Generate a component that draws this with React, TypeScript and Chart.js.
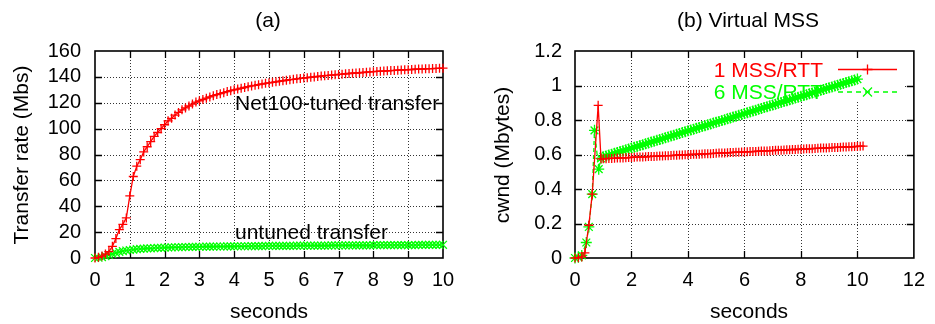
import React, { useEffect, useRef } from "react";
import { Chart, registerables } from "chart.js";

Chart.register(...registerables);

const FONT = "'Liberation Sans', Arial, Helvetica, sans-serif";
const RED = "#ff0000";
const GREEN = "#00ff00";

// ---------- Panel (a): Transfer rate ----------
const SECONDS_A = [
  0, 0.1, 0.2, 0.3, 0.4, 0.5, 0.6, 0.7, 0.8, 0.9,
  1, 1.1, 1.2, 1.3, 1.4, 1.5, 1.6, 1.7, 1.8, 1.9,
  2, 2.1, 2.2, 2.3, 2.4, 2.5, 2.6, 2.7, 2.8, 2.9,
  3, 3.1, 3.2, 3.3, 3.4, 3.5, 3.6, 3.7, 3.8, 3.9,
  4, 4.1, 4.2, 4.3, 4.4, 4.5, 4.6, 4.7, 4.8, 4.9,
  5, 5.1, 5.2, 5.3, 5.4, 5.5, 5.6, 5.7, 5.8, 5.9,
  6, 6.1, 6.2, 6.3, 6.4, 6.5, 6.6, 6.7, 6.8, 6.9,
  7, 7.1, 7.2, 7.3, 7.4, 7.5, 7.6, 7.7, 7.8, 7.9,
  8, 8.1, 8.2, 8.3, 8.4, 8.5, 8.6, 8.7, 8.8, 8.9,
  9, 9.1, 9.2, 9.3, 9.4, 9.5, 9.6, 9.7, 9.8, 9.9,
  10,
];

const RATE_TUNED = [
  0, 0.5, 1.5, 3, 5, 9, 15, 22, 26, 31,
  48, 63, 71, 76, 82, 86, 90, 94, 97, 100,
  103, 106, 108, 110.5, 112.5, 114.5, 116, 117.5, 119, 120.5,
  121.5, 122.5, 123.5, 124.5, 125.5, 126.3, 127, 127.8, 128.6, 129.3,
  130, 130.6, 131.2, 131.8, 132.4, 133, 133.5, 134, 134.5, 135,
  135.4, 135.8, 136.2, 136.6, 137, 137.4, 137.8, 138.1, 138.5, 138.8,
  139.1, 139.4, 139.7, 140, 140.3, 140.6, 140.9, 141.1, 141.4, 141.6,
  141.9, 142.1, 142.4, 142.6, 142.8, 143, 143.2, 143.4, 143.6, 143.8,
  144, 144.2, 144.4, 144.5, 144.7, 144.9, 145, 145.2, 145.3, 145.5,
  145.6, 145.7, 145.9, 146, 146.1, 146.2, 146.3, 146.4, 146.5, 146.6,
  146.7,
];

const RATE_UNTUNED = [
  0, 0.2, 0.7, 1.4, 2.3, 3.2, 4, 4.7, 5.3, 5.8,
  6.2, 6.5, 6.8, 7, 7.2, 7.4, 7.5, 7.7, 7.8, 7.9,
  8, 8.1, 8.2, 8.3, 8.3, 8.4, 8.5, 8.5, 8.6, 8.6,
  8.7, 8.7, 8.8, 8.8, 8.8, 8.9, 8.9, 8.9, 9, 9,
  9, 9.1, 9.1, 9.1, 9.1, 9.2, 9.2, 9.2, 9.2, 9.3,
  9.3, 9.3, 9.3, 9.4, 9.4, 9.4, 9.4, 9.4, 9.5, 9.5,
  9.5, 9.5, 9.5, 9.6, 9.6, 9.6, 9.6, 9.6, 9.7, 9.7,
  9.7, 9.7, 9.7, 9.7, 9.8, 9.8, 9.8, 9.8, 9.8, 9.8,
  9.9, 9.9, 9.9, 9.9, 9.9, 9.9, 10, 10, 10, 10,
  10, 10, 10, 10.1, 10.1, 10.1, 10.1, 10.1, 10.1, 10.2,
  10.2,
];

// ---------- Panel (b): Virtual MSS ----------
const SECONDS_1MSS = [
  0, 0.12, 0.24, 0.35, 0.49, 0.61, 0.82, 0.92,
  1, 1.1, 1.2, 1.3, 1.4, 1.5, 1.6, 1.7, 1.8, 1.9,
  2, 2.1, 2.2, 2.3, 2.4, 2.5, 2.6, 2.7, 2.8, 2.9,
  3, 3.1, 3.2, 3.3, 3.4, 3.5, 3.6, 3.7, 3.8, 3.9,
  4, 4.1, 4.2, 4.3, 4.4, 4.5, 4.6, 4.7, 4.8, 4.9,
  5, 5.1, 5.2, 5.3, 5.4, 5.5, 5.6, 5.7, 5.8, 5.9,
  6, 6.1, 6.2, 6.3, 6.4, 6.5, 6.6, 6.7, 6.8, 6.9,
  7, 7.1, 7.2, 7.3, 7.4, 7.5, 7.6, 7.7, 7.8, 7.9,
  8, 8.1, 8.2, 8.3, 8.4, 8.5, 8.6, 8.7, 8.8, 8.9,
  9, 9.1, 9.2, 9.3, 9.4, 9.5, 9.6, 9.7, 9.8, 9.9,
  10, 10.1, 10.2,
];

const CWND_1MSS = [
  0, 0.002, 0.006, 0.03, 0.19, 0.37, 0.885, 0.575,
  0.575, 0.576, 0.577, 0.577, 0.578, 0.579, 0.58, 0.58, 0.581, 0.582,
  0.583, 0.584, 0.585, 0.585, 0.586, 0.587, 0.588, 0.589, 0.589, 0.59,
  0.591, 0.592, 0.593, 0.593, 0.594, 0.595, 0.596, 0.597, 0.597, 0.598,
  0.599, 0.6, 0.601, 0.601, 0.602, 0.603, 0.604, 0.605, 0.605, 0.606,
  0.607, 0.608, 0.609, 0.609, 0.61, 0.611, 0.612, 0.613, 0.613, 0.614,
  0.615, 0.616, 0.617, 0.617, 0.618, 0.619, 0.62, 0.621, 0.621, 0.622,
  0.623, 0.624, 0.625, 0.625, 0.626, 0.627, 0.628, 0.629, 0.629, 0.63,
  0.631, 0.632, 0.633, 0.633, 0.634, 0.635, 0.636, 0.637, 0.637, 0.638,
  0.639, 0.64, 0.641, 0.641, 0.642, 0.643, 0.644, 0.645, 0.645, 0.646,
  0.647, 0.648, 0.649,
];

const SECONDS_6MSS = [
  0, 0.12, 0.24, 0.4, 0.49, 0.61, 0.69, 0.84, 0.92,
  1, 1.1, 1.2, 1.3, 1.4, 1.5, 1.6, 1.7, 1.8, 1.9,
  2, 2.1, 2.2, 2.3, 2.4, 2.5, 2.6, 2.7, 2.8, 2.9,
  3, 3.1, 3.2, 3.3, 3.4, 3.5, 3.6, 3.7, 3.8, 3.9,
  4, 4.1, 4.2, 4.3, 4.4, 4.5, 4.6, 4.7, 4.8, 4.9,
  5, 5.1, 5.2, 5.3, 5.4, 5.5, 5.6, 5.7, 5.8, 5.9,
  6, 6.1, 6.2, 6.3, 6.4, 6.5, 6.6, 6.7, 6.8, 6.9,
  7, 7.1, 7.2, 7.3, 7.4, 7.5, 7.6, 7.7, 7.8, 7.9,
  8, 8.1, 8.2, 8.3, 8.4, 8.5, 8.6, 8.7, 8.8, 8.9,
  9, 9.1, 9.2, 9.3, 9.4, 9.5, 9.6, 9.7, 9.8, 9.9,
  10,
];

const CWND_6MSS = [
  0, 0.004, 0.015, 0.09, 0.18, 0.37, 0.74, 0.515, 0.578,
  0.587, 0.592, 0.597, 0.602, 0.607, 0.612, 0.617, 0.622, 0.627, 0.632,
  0.637, 0.642, 0.647, 0.652, 0.657, 0.662, 0.667, 0.672, 0.677, 0.682,
  0.687, 0.692, 0.697, 0.702, 0.707, 0.712, 0.717, 0.722, 0.727, 0.732,
  0.737, 0.742, 0.747, 0.752, 0.757, 0.762, 0.767, 0.772, 0.777, 0.782,
  0.787, 0.792, 0.797, 0.802, 0.807, 0.812, 0.817, 0.822, 0.827, 0.832,
  0.837, 0.842, 0.847, 0.852, 0.857, 0.862, 0.867, 0.872, 0.877, 0.882,
  0.887, 0.892, 0.897, 0.902, 0.907, 0.912, 0.917, 0.922, 0.927, 0.932,
  0.937, 0.942, 0.947, 0.952, 0.957, 0.962, 0.967, 0.972, 0.977, 0.982,
  0.987, 0.992, 0.997, 1.002, 1.007, 1.012, 1.017, 1.022, 1.027, 1.032,
  1.037,
];

function pts(xs: number[], ys: number[]) {
  return xs.map((x, i) => ({ x, y: ys[i] }));
}

function ds(label: string, data: any[], color: string, style: string, radius: number, dash: number[] = []) {
  return {
    label,
    data,
    borderColor: color,
    backgroundColor: color,
    borderWidth: 1.3,
    borderDash: dash,
    pointStyle: style,
    pointRadius: radius,
    pointHoverRadius: radius,
    pointBorderWidth: 1.3,
    pointBorderColor: color,
    pointBackgroundColor: "transparent",
    tension: 0,
    clip: false as any,
    fill: false,
  };
}

function drawMarker(ctx: CanvasRenderingContext2D, kind: string, x: number, y: number, r: number) {
  ctx.beginPath();
  if (kind === "cross" || kind === "star") {
    ctx.moveTo(x - r, y); ctx.lineTo(x + r, y);
    ctx.moveTo(x, y - r); ctx.lineTo(x, y + r);
  }
  if (kind === "crossRot" || kind === "star") {
    const d = r * 0.75;
    ctx.moveTo(x - d, y - d); ctx.lineTo(x + d, y + d);
    ctx.moveTo(x - d, y + d); ctx.lineTo(x + d, y - d);
  }
  ctx.stroke();
}

type TextItem = { text: string; x: number; y: number; align?: CanvasTextAlign; color?: string; rotate?: boolean; baseline?: CanvasTextBaseline };

function framePlugin(texts: TextItem[], before?: (ctx: CanvasRenderingContext2D, chart: any) => void) {
  return {
    id: "frame",
    beforeDatasetsDraw(chart: any) {
      const ctx = chart.ctx as CanvasRenderingContext2D;
      const { left, right, top, bottom } = chart.chartArea;
      const xs = chart.scales.x;
      const ys = chart.scales.y;
      ctx.save();
      // dotted grid
      ctx.strokeStyle = "#333";
      ctx.lineWidth = 1;
      ctx.setLineDash([1, 2]);
      ctx.beginPath();
      xs.ticks.forEach((t: any) => {
        const px = Math.round(xs.getPixelForValue(t.value)) + 0.5;
        if (px <= left + 2 || px >= right - 2) return;
        ctx.moveTo(px, top); ctx.lineTo(px, bottom);
      });
      ys.ticks.forEach((t: any) => {
        const py = Math.round(ys.getPixelForValue(t.value)) + 0.5;
        if (py <= top + 2 || py >= bottom - 2) return;
        ctx.moveTo(left, py); ctx.lineTo(right, py);
      });
      ctx.stroke();
      ctx.setLineDash([]);
      if (before) before(ctx, chart);
      // border
      ctx.strokeStyle = "#000";
      ctx.lineWidth = 1.6;
      ctx.setLineDash([]);
      ctx.strokeRect(left, top, right - left, bottom - top);
      // inward ticks on all four sides
      ctx.lineWidth = 1.3;
      const L = 7;
      ctx.beginPath();
      xs.ticks.forEach((t: any) => {
        const px = Math.round(xs.getPixelForValue(t.value)) + 0.5;
        if (px <= left + 2 || px >= right - 2) return;
        ctx.moveTo(px, bottom); ctx.lineTo(px, bottom - L);
        ctx.moveTo(px, top); ctx.lineTo(px, top + L);
      });
      ys.ticks.forEach((t: any) => {
        const py = Math.round(ys.getPixelForValue(t.value)) + 0.5;
        if (py <= top + 2 || py >= bottom - 2) return;
        ctx.moveTo(left, py); ctx.lineTo(left + L, py);
        ctx.moveTo(right, py); ctx.lineTo(right - L, py);
      });
      ctx.stroke();
      ctx.restore();
    },
    afterDraw(chart: any) {
      const ctx = chart.ctx as CanvasRenderingContext2D;
      ctx.save();
      ctx.font = `21px ${FONT}`;
      texts.forEach((t) => {
        ctx.fillStyle = t.color || "#000";
        ctx.textAlign = t.align || "center";
        ctx.textBaseline = t.baseline || "alphabetic";
        if (t.rotate) {
          ctx.save();
          ctx.translate(t.x, t.y);
          ctx.rotate(-Math.PI / 2);
          ctx.fillText(t.text, 0, 0);
          ctx.restore();
        } else {
          ctx.fillText(t.text, t.x, t.y);
        }
      });
      ctx.restore();
    },
  };
}

function makeConfig(opts: {
  datasets: any[];
  xMax: number; xStep: number; yMax: number; yStep: number;
  yWidth: number; padRight: number; yPad: number;
  fmt: (v: number) => string;
  plugin: any;
}) {
  const tickFont = { family: FONT, size: 20 };
  return {
    type: "line",
    data: { datasets: opts.datasets },
    options: {
      animation: false,
      responsive: false,
      devicePixelRatio: 1,
      events: [],
      layout: { padding: { top: 51, right: opts.padRight, left: 0, bottom: 0 } },
      plugins: { legend: { display: false }, tooltip: { enabled: false }, title: { display: false } },
      scales: {
        x: {
          type: "linear",
          min: 0,
          max: opts.xMax,
          afterFit: (s: any) => { s.height = 66; },
          ticks: { stepSize: opts.xStep, font: tickFont, color: "#000", padding: 10, maxRotation: 0, autoSkip: false },
          grid: { display: false, drawTicks: false },
          border: { display: false },
        },
        y: {
          type: "linear",
          min: 0,
          max: opts.yMax,
          afterFit: (s: any) => { s.width = opts.yWidth; },
          ticks: { stepSize: opts.yStep, font: tickFont, color: "#000", padding: opts.yPad, autoSkip: false, callback: (v: any) => opts.fmt(Number(v)) },
          grid: { display: false, drawTicks: false },
          border: { display: false },
        },
      },
    },
    plugins: [opts.plugin],
  } as any;
}

export default function App() {
  const refA = useRef<HTMLCanvasElement>(null);
  const refB = useRef<HTMLCanvasElement>(null);

  useEffect(() => {
    const textsA: TextItem[] = [
      { text: "(a)", x: 268, y: 27 },
      { text: "seconds", x: 269, y: 318 },
      { text: "Transfer rate (Mbs)", x: 22, y: 155, rotate: true, baseline: "middle" },
      { text: "Net100-tuned transfer", x: 235, y: 110, align: "left" },
      { text: "untuned transfer", x: 235, y: 239, align: "left" },
    ];
    const cfgA = makeConfig({
      datasets: [
        ds("Net100-tuned transfer", pts(SECONDS_A, RATE_TUNED), RED, "cross", 4.5),
        ds("untuned transfer", pts(SECONDS_A, RATE_UNTUNED), GREEN, "crossRot", 5.5),
      ],
      xMax: 10, xStep: 1, yMax: 160, yStep: 20,
      yWidth: 95, padRight: 27, yPad: 14,
      fmt: (v) => String(Math.round(v)),
      plugin: framePlugin(textsA),
    });

    const textsB: TextItem[] = [
      { text: "(b) Virtual MSS", x: 278, y: 27 },
      { text: "seconds", x: 279, y: 318 },
      { text: "cwnd (Mbytes)", x: 33, y: 155, rotate: true, baseline: "middle" },
      { text: "1 MSS/RTT", x: 353, y: 77, align: "right", color: RED },
      { text: "6 MSS/RTT", x: 353, y: 99, align: "right", color: GREEN },
    ];
    const legendBox = (ctx: CanvasRenderingContext2D) => {
      ctx.fillStyle = "#fff";
      ctx.fillRect(238, 58, 197, 42);
      ctx.lineWidth = 1.3;
      ctx.strokeStyle = RED;
      ctx.setLineDash([]);
      ctx.beginPath(); ctx.moveTo(368, 69.5); ctx.lineTo(427, 69.5); ctx.stroke();
      drawMarker(ctx, "cross", 397.5, 69.5, 5);
      ctx.strokeStyle = GREEN;
      ctx.setLineDash([5, 4]);
      ctx.beginPath(); ctx.moveTo(368, 92); ctx.lineTo(427, 92); ctx.stroke();
      ctx.setLineDash([]);
      drawMarker(ctx, "crossRot", 397.5, 92, 6);
    };
    const cfgB = makeConfig({
      datasets: [
        ds("1 MSS/RTT", pts(SECONDS_1MSS, CWND_1MSS), RED, "cross", 4.5),
        ds("6 MSS/RTT", pts(SECONDS_6MSS, CWND_6MSS), GREEN, "star", 5.5, [4, 3]),
      ],
      xMax: 12, xStep: 2, yMax: 1.2, yStep: 0.2,
      yWidth: 105, padRight: 12, yPad: 13,
      fmt: (v) => String(Math.round(v * 10) / 10),
      plugin: framePlugin(textsB, legendBox),
    });

    const a = new Chart(refA.current as HTMLCanvasElement, cfgA);
    const b = new Chart(refB.current as HTMLCanvasElement, cfgB);
    return () => { a.destroy(); b.destroy(); };
  }, []);

  return (
    <div style={{ position: "absolute", left: 0, top: 0, width: 935, height: 324, background: "#fff" }}>
      <canvas ref={refA} width={470} height={324} style={{ position: "absolute", left: 0, top: 0, width: 470, height: 324 }} />
      <canvas ref={refB} width={465} height={324} style={{ position: "absolute", left: 470, top: 0, width: 465, height: 324 }} />
    </div>
  );
}
